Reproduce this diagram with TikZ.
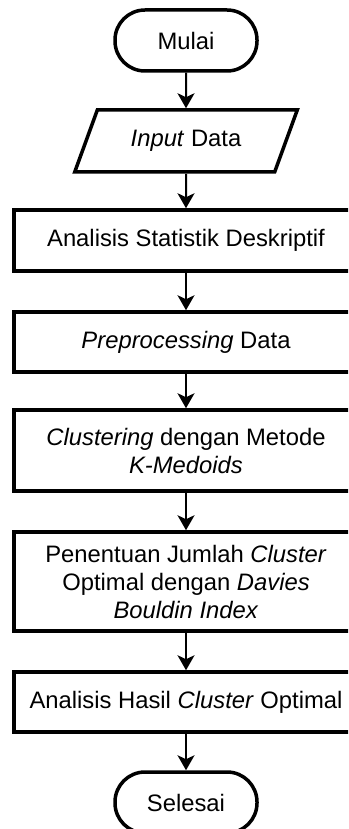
\documentclass[tikz,border=0pt]{standalone}
\usepackage{fontspec}
\setmainfont{Liberation Sans}
\usetikzlibrary{shapes.geometric,arrows.meta}
\tikzset{
  base/.style={draw=black, line width=3.5pt, inner sep=0pt, align=center, font=\fontsize{23.8}{28}\selectfont},
  term/.style={base, rectangle, rounded corners=30pt, minimum width=142pt, minimum height=61pt},
  io/.style={base, trapezium, trapezium left angle=56.5, trapezium right angle=123.5, trapezium stretches=true, minimum width=223pt, minimum height=62pt},
  proc/.style={base, rectangle, minimum width=344pt},
  conn/.style={line width=2pt, -{Stealth[length=15pt,width=17pt,inset=4pt]}}
}
\begin{document}
\begin{tikzpicture}[x=1pt,y=-1pt]
\useasboundingbox (0,0) rectangle (348,829);
\clip (0,0) rectangle (348,829);
\node[term] (start) at (186,40.5) {Mulai};
\node[io] (inp) at (186,141) {\textit{Input} Data};
\node[proc, minimum height=61pt] (p1) at (186,240.5) {Analisis Statistik Deskriptif};
\node[proc, minimum height=60pt] (p2) at (186,342) {\textit{Preprocessing} Data};
\node[proc, minimum height=81pt] (p3) at (186,450.5) {\textit{Clustering} dengan Metode\\\textit{K-Medoids}};
\node[proc, minimum height=99pt] (p4) at (186,581.5) {Penentuan Jumlah \textit{Cluster}\\Optimal dengan \textit{Davies}\\\textit{Bouldin Index}};
\node[proc, minimum height=60pt] (p5) at (186,702) {Analisis Hasil \textit{Cluster} Optimal};
\node[term] (stop) at (186,802.5) {Selesai};
\draw[conn] (start) -- (inp);
\draw[conn] (inp) -- (p1);
\draw[conn] (p1) -- (p2);
\draw[conn] (p2) -- (p3);
\draw[conn] (p3) -- (p4);
\draw[conn] (p4) -- (p5);
\draw[conn] (p5) -- (stop);
\end{tikzpicture}
\end{document}
